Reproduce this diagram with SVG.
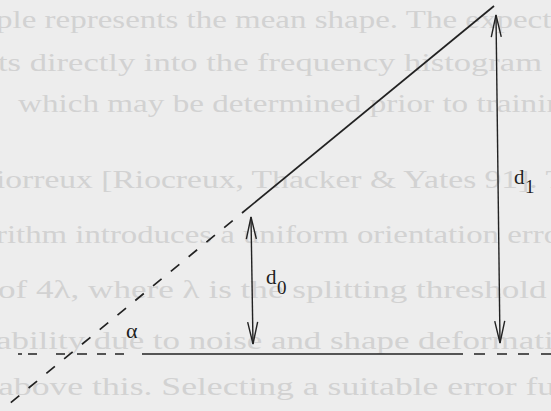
<svg xmlns="http://www.w3.org/2000/svg" width="551" height="411" viewBox="0 0 551 411">
<style>
.ghost{font-family:"Liberation Serif","DejaVu Serif",serif;font-size:26px;fill:#d2d2d2}
.lbl{font-family:"Liberation Serif","DejaVu Serif",serif;fill:#1e1e1e}
.ln{stroke:#222;fill:none;stroke-width:1.7}
.arr{stroke:#222;fill:none;stroke-width:1.4}
</style>
<defs>
<marker id="ah" markerUnits="userSpaceOnUse" orient="auto-start-reverse" refX="0" refY="0" markerWidth="30" markerHeight="14" overflow="visible">
<path d="M -22 -5 L 0 0 L -22 5" fill="none" stroke="#222" stroke-width="1.4"/>
</marker>
</defs>
<rect width="551" height="411" fill="#ededed"/>
<g id="background-text">
<text class="ghost" x="-4" y="28" textLength="570" lengthAdjust="spacingAndGlyphs">ple represents the mean shape. The expecte</text>
<text class="ghost" x="-2" y="71" textLength="570" lengthAdjust="spacingAndGlyphs">ts directly into the frequency histogram b</text>
<text class="ghost" x="18" y="112" textLength="545" lengthAdjust="spacingAndGlyphs">which may be determined prior to trainin</text>
<text class="ghost" x="-4" y="188" textLength="570" lengthAdjust="spacingAndGlyphs">iorreux [Riocreux, Thacker &amp; Yates 91]. T</text>
<text class="ghost" x="-4" y="243" textLength="575" lengthAdjust="spacingAndGlyphs">rithm introduces a uniform orientation error</text>
<text class="ghost" x="-2" y="298" textLength="575" lengthAdjust="spacingAndGlyphs">of 4λ, where λ is the splitting threshold d</text>
<text class="ghost" x="-4" y="349" textLength="575" lengthAdjust="spacingAndGlyphs">ability due to noise and shape deformatio</text>
<text class="ghost" x="-2" y="395" textLength="575" lengthAdjust="spacingAndGlyphs">above this. Selecting a suitable error fun</text>
</g>
<g id="connectors">
<line class="ln" x1="242" y1="213" x2="494" y2="6"/>
<line class="ln" x1="232.7" y1="220.6" x2="3" y2="409" stroke-dasharray="11 12"/>
<path class="ln" d="M18 354 H22 M28 354 H37 M56 354 H65 M77 354 H87 M97 354 H106 M115 354 H124"/>
<line class="ln" x1="142" y1="354" x2="463" y2="354" stroke-width="2"/>
<path class="ln" d="M474 354 H485 M497 354 H507 M518 354 H529 M541 354 H551"/>
</g>
<g id="d0">
<line class="arr" x1="253" y1="344" x2="251" y2="217" marker-start="url(#ah)" marker-end="url(#ah)"/>
<text class="lbl" x="266" y="284" font-size="21">d</text>
<text class="lbl" x="277" y="294" font-size="19">0</text>
</g>
<g id="d1">
<line class="arr" x1="500" y1="343" x2="496" y2="15" marker-start="url(#ah)" marker-end="url(#ah)"/>
<text class="lbl" x="514" y="184" font-size="21">d</text>
<text class="lbl" x="525" y="193" font-size="19">1</text>
</g>
<g id="alpha">
<text class="lbl" x="126" y="338" font-size="22">α</text>
</g>
</svg>
